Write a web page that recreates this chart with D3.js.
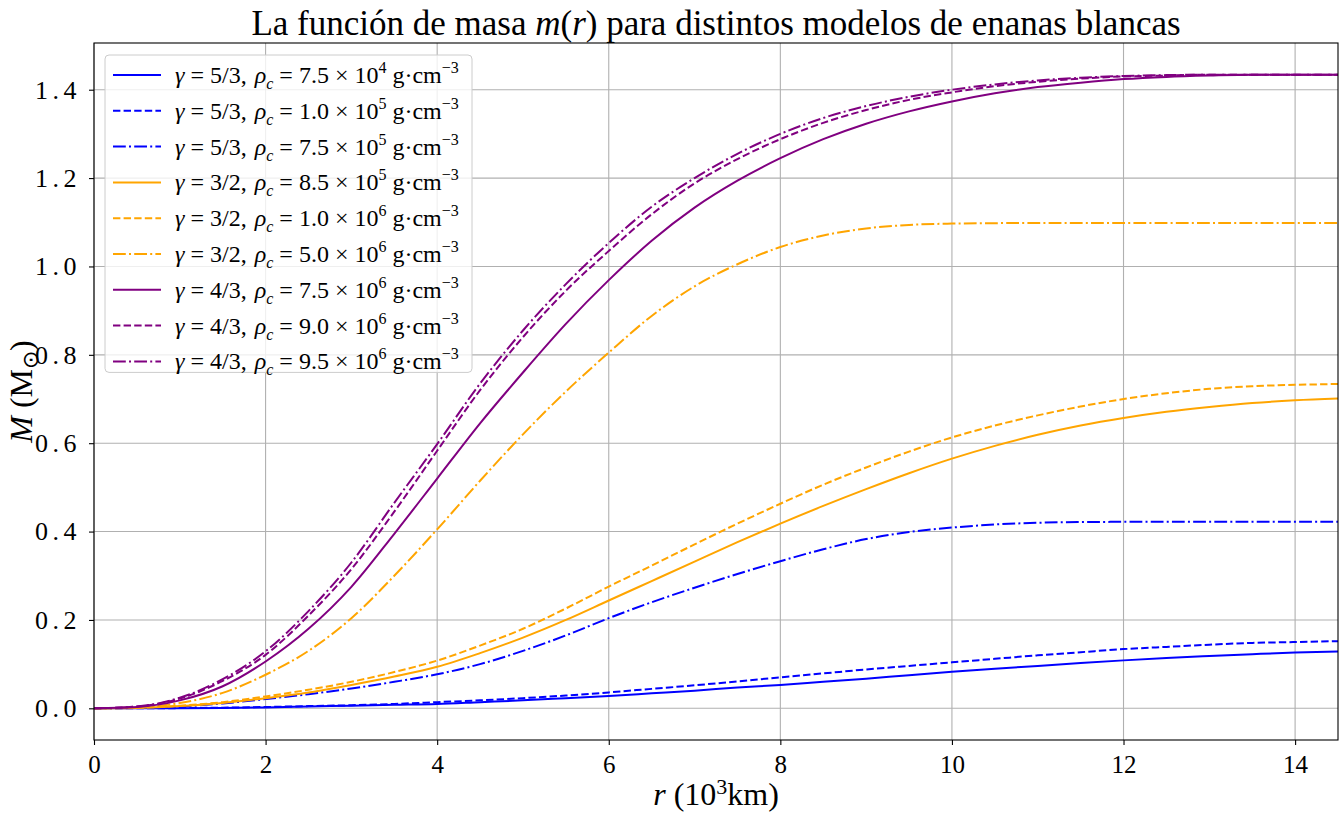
<!DOCTYPE html>
<html><head><meta charset="utf-8">
<script src="https://cdn.jsdelivr.net/npm/d3@7"></script>
<style>body{margin:0;background:#fff}</style>
</head><body>
<svg id="chart" width="1340" height="813"></svg>
<script>
// ---- data ----
const radius = [0,0.5,1,1.5,2,2.5,3,3.5,4,4.5,5,5.5,6,6.5,7,7.5,8,8.5,9,9.5,10,10.5,11,11.5,12,12.5,13,13.5,14,14.5];

const mass_g53_a = [0,0.0001,0.0004,0.001,0.002,0.004,0.006,0.008,0.010,0.014,0.018,0.023,0.028,0.034,0.040,0.047,0.053,0.060,0.067,0.075,0.0825,0.0895,0.096,0.1025,0.1085,0.114,0.1185,0.1225,0.1262,0.1287];
const mass_g53_b = [0,0.0001,0.0005,0.0015,0.003,0.005,0.007,0.010,0.014,0.018,0.023,0.029,0.036,0.044,0.052,0.061,0.070,0.079,0.088,0.096,0.104,0.112,0.120,0.127,0.134,0.139,0.144,0.148,0.150,0.152];
const mass_g53_c = [0,0.001,0.004,0.011,0.021,0.032,0.045,0.060,0.077,0.100,0.130,0.165,0.204,0.240,0.273,0.304,0.333,0.360,0.383,0.399,0.409,0.416,0.420,0.4215,0.422,0.422,0.422,0.422,0.422,0.422];
const mass_g32_a = [0,0.001,0.005,0.012,0.023,0.036,0.053,0.072,0.094,0.125,0.160,0.200,0.244,0.288,0.332,0.376,0.418,0.458,0.496,0.532,0.565,0.594,0.619,0.640,0.657,0.671,0.682,0.691,0.697,0.701];
const mass_g32_b = [0,0.001,0.006,0.014,0.027,0.042,0.060,0.082,0.108,0.142,0.180,0.226,0.2755,0.323,0.371,0.418,0.463,0.506,0.545,0.581,0.613,0.640,0.663,0.683,0.700,0.713,0.723,0.729,0.732,0.734];
const mass_g32_c = [0,0.002,0.012,0.035,0.076,0.130,0.204,0.300,0.405,0.515,0.620,0.717,0.805,0.888,0.955,1.005,1.044,1.070,1.086,1.094,1.097,1.098,1.0985,1.0985,1.0985,1.0985,1.0985,1.0985,1.0985,1.0985];
const mass_g43_a = [0,0.003,0.018,0.050,0.106,0.180,0.275,0.395,0.520,0.645,0.760,0.870,0.969,1.058,1.133,1.194,1.245,1.288,1.323,1.351,1.3735,1.392,1.406,1.416,1.424,1.429,1.432,1.434,1.434,1.434];
const mass_g43_b = [0,0.004,0.022,0.062,0.121,0.210,0.315,0.445,0.583,0.720,0.840,0.945,1.035,1.118,1.188,1.243,1.288,1.325,1.354,1.377,1.394,1.408,1.418,1.425,1.430,1.432,1.434,1.434,1.434,1.434];
const mass_g43_c = [0,0.004,0.024,0.066,0.129,0.220,0.330,0.465,0.598,0.735,0.855,0.960,1.053,1.135,1.200,1.255,1.300,1.336,1.363,1.384,1.400,1.412,1.421,1.427,1.431,1.433,1.434,1.434,1.434,1.434];

const gammaLabels = ["5/3","5/3","5/3","3/2","3/2","3/2","4/3","4/3","4/3"];
const rhoMantissa = ["7.5","1.0","7.5","8.5","1.0","5.0","7.5","9.0","9.5"];
const rhoExponent = ["4","5","5","5","6","6","6","6","6"];

const xTicks = [0,2,4,6,8,10,12,14];
const yTicks = [0.0,0.2,0.4,0.6,0.8,1.0,1.2,1.4];
const yTickLabels = ["0.0","0.2","0.4","0.6","0.8","1.0","1.2","1.4"];

// ---- styles ----
const seriesValues = [mass_g53_a,mass_g53_b,mass_g53_c,mass_g32_a,mass_g32_b,mass_g32_c,mass_g43_a,mass_g43_b,mass_g43_c];
const colors = ["#0000ff","#0000ff","#0000ff","#ffa500","#ffa500","#ffa500","#800080","#800080","#800080"];
const dashes = [null,"7.4,3.2","12.8,3.2,2,3.2",null,"7.4,3.2","12.8,3.2,2,3.2",null,"7.4,3.2","12.8,3.2,2,3.2"];

const series = seriesValues.map((vals,i)=>({
  values: radius.map((r,j)=>({r, m: vals[j]})),
  color: colors[i], dash: dashes[i],
  gamma: gammaLabels[i], mant: rhoMantissa[i], exp: rhoExponent[i]
}));

const svg = d3.select("#chart");
const W = 1340, H = 813;
const margin = {left:94, right:2, top:43, bottom:73};
const pw = W - margin.left - margin.right, ph = H - margin.top - margin.bottom;
const serif = "'Liberation Serif','Times New Roman',serif";

const allMax = d3.max(seriesValues.flat()), allMin = 0;
const pad = (allMax - allMin)*0.05;
const x = d3.scaleLinear().domain([0,14.5]).range([0,pw]);
const y = d3.scaleLinear().domain([allMin - pad, allMax + pad]).range([ph,0]);

const g = svg.append("g").attr("transform",`translate(${margin.left},${margin.top})`);

// grid
g.append("g").selectAll("line").data(xTicks).join("line")
  .attr("x1",d=>x(d)).attr("x2",d=>x(d)).attr("y1",0).attr("y2",ph)
  .attr("stroke","#b0b0b0").attr("stroke-width",1.1);
g.append("g").selectAll("line").data(yTicks).join("line")
  .attr("y1",d=>y(d)).attr("y2",d=>y(d)).attr("x1",0).attr("x2",pw)
  .attr("stroke","#b0b0b0").attr("stroke-width",1.1);

// lines
const line = d3.line().x(d=>x(d.r)).y(d=>y(d.m)).curve(d3.curveMonotoneX);
const clipId = "clipPlot";
svg.append("defs").append("clipPath").attr("id",clipId).append("rect").attr("width",pw).attr("height",ph);
g.append("g").attr("clip-path",`url(#${clipId})`).selectAll("path").data(series).join("path")
  .attr("d",d=>line(d.values)).attr("fill","none")
  .attr("stroke",d=>d.color).attr("stroke-width",2)
  .attr("stroke-dasharray",d=>d.dash);

// axes
const xAxis = d3.axisBottom(x).tickValues(xTicks).tickFormat(d3.format("d")).tickSize(5).tickPadding(5);
const yAxis = d3.axisLeft(y).tickValues(yTicks).tickFormat((d,i)=>yTickLabels[i]).tickSize(5).tickPadding(8);
const gx = g.append("g").attr("transform",`translate(0,${ph})`).call(xAxis);
const gy = g.append("g").call(yAxis);
[gx,gy].forEach(a=>{
  a.select(".domain").remove();
  a.selectAll("line").attr("stroke","#000").attr("stroke-width",1.1);
  a.selectAll("text").attr("font-family",serif).attr("fill","#000");
});
gx.selectAll("text").attr("font-size",25).attr("dy","0.9em");
gy.selectAll("text").attr("font-size",26).attr("letter-spacing",4.5);
// frame
g.append("rect").attr("width",pw).attr("height",ph).attr("fill","none").attr("stroke","#000").attr("stroke-width",1.1);

// title
const title = svg.append("text").attr("x",margin.left+pw/2).attr("y",35).attr("text-anchor","middle")
  .attr("font-family",serif).attr("font-size",35).attr("fill","#000");
title.append("tspan").text("La función de masa ");
title.append("tspan").attr("font-style","italic").text("m");
title.append("tspan").text("(");
title.append("tspan").attr("font-style","italic").text("r");
title.append("tspan").text(") para distintos modelos de enanas blancas");

// x label
const xl = svg.append("text").attr("x",margin.left+pw/2).attr("y",805).attr("text-anchor","middle")
  .attr("font-family",serif).attr("font-size",32).attr("fill","#000");
xl.append("tspan").attr("font-style","italic").text("r");
xl.append("tspan").text(" (10");
xl.append("tspan").attr("dy",-11).attr("font-size",22).text("3");
xl.append("tspan").attr("dy",11).text("km)");

// y label
const yl = svg.append("text").attr("transform",`translate(32,${margin.top+ph/2}) rotate(-90)`).attr("text-anchor","middle")
  .attr("font-family",serif).attr("font-size",32).attr("fill","#000");
yl.append("tspan").attr("font-style","italic").text("M");
yl.append("tspan").text(" (M");
yl.append("tspan").attr("dy",6).attr("font-size",22).text("⊙");
yl.append("tspan").attr("dy",-6).text(")");

// legend
const lg = g.append("g").attr("transform","translate(11,12)");
const rowH = 35.8, lw = 367;
lg.append("rect").attr("width",lw).attr("height",rowH*(series.length-1)+31).attr("rx",4)
  .attr("fill","#fff").attr("fill-opacity",0.8).attr("stroke","#cccccc").attr("stroke-width",1);
const rows = lg.selectAll("g.row").data(series).join("g").attr("class","row")
  .attr("transform",(d,i)=>`translate(0,${20+i*rowH})`);
rows.append("line").attr("x1",8).attr("x2",56).attr("y1",0).attr("y2",0)
  .attr("stroke",d=>d.color).attr("stroke-width",2).attr("stroke-dasharray",d=>d.dash);
const fs = 24, sfs = 16;
rows.each(function(d){
  const t = d3.select(this).append("text").attr("x",70).attr("y",8)
    .attr("font-family",serif).attr("font-size",fs).attr("fill","#000");
  t.append("tspan").attr("font-style","italic").text("γ");
  t.append("tspan").attr("dx",6).text("=");
  t.append("tspan").attr("dx",6).text(d.gamma + ",");
  t.append("tspan").attr("dx",8).attr("font-style","italic").text("ρ");
  t.append("tspan").attr("font-style","italic").attr("font-size",sfs).attr("dy",6).text("c");
  t.append("tspan").attr("dx",6).attr("dy",-6).text("=");
  t.append("tspan").attr("dx",6).text(d.mant);
  t.append("tspan").attr("dx",6).text("×");
  t.append("tspan").attr("dx",6).text("10");
  t.append("tspan").attr("font-size",sfs).attr("dy",-10).text(d.exp);
  t.append("tspan").attr("dx",6).attr("dy",10).text("g·cm");
  t.append("tspan").attr("font-size",sfs).attr("dy",-10).text("−3");
});
</script>
</body></html>
